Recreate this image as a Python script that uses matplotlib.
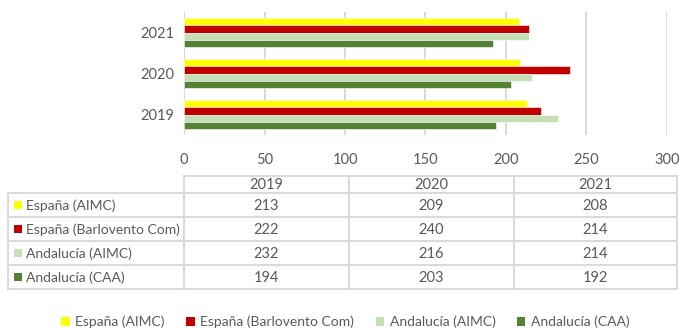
import matplotlib
matplotlib.use("Agg")
import matplotlib.pyplot as plt
from matplotlib.patches import Rectangle
import numpy as np

plt.rcParams['font.family'] = ['Lato', 'DejaVu Sans']

years = ['2019', '2020', '2021']
series_names = ['España (AIMC)', 'España (Barlovento Com)', 'Andalucía (AIMC)', 'Andalucía (CAA)']
espana_aimc = [213, 209, 208]
espana_barlovento = [222, 240, 214]
andalucia_aimc = [232, 216, 214]
andalucia_caa = [194, 203, 192]
colors = ['#FFFF00', '#C00000', '#C5E0B4', '#548235']
xticks = [0, 50, 100, 150, 200, 250, 300]

series = [espana_aimc, espana_barlovento, andalucia_aimc, andalucia_caa]
TXT = '#595959'
GRID = '#D9D9D9'
W, H = 679, 330

fig = plt.figure(figsize=(W/100, H/100), dpi=100)

def fx(px):
    return px / W

def fy(py):
    return 1 - py / H

# chart axes
ax = fig.add_axes([fx(184), fy(135), fx(667) - fx(184), fy(12) - fy(135)])
pos = np.arange(len(years))
h = 0.178
bars = []
for i, (vals, c) in enumerate(zip(series, colors)):
    b = ax.barh(pos + (1.5 - i) * h, vals, height=h, color=c, edgecolor='white',
                linewidth=0.4, zorder=3, label=series_names[i])
    bars.append(b)
ax.set_xlim(0, 300)
ax.set_ylim(-0.5, 2.5)
ax.set_xticks(xticks)
ax.set_xticklabels([str(t) for t in xticks])
ax.set_yticks(pos)
ax.set_yticklabels(years)
ax.tick_params(axis='both', length=0, colors=TXT, labelsize=10.5)
ax.tick_params(axis='x', pad=13)
ax.tick_params(axis='y', pad=7)
ax.grid(axis='x', color=GRID, linewidth=1.4, zorder=0)
for s in ax.spines.values():
    s.set_visible(False)
ax.axvline(0, color=GRID, linewidth=1.4, zorder=1)

# table overlay
tax = fig.add_axes([0, 0, 1, 1])
tax.set_xlim(0, W)
tax.set_ylim(H, 0)
tax.axis('off')
col_x = [8, 184, 348.5, 513.5, 677]
row_y = [176, 193, 217, 241, 265, 289]
lw = 1.4
tax.plot([col_x[1], col_x[-1]], [row_y[0], row_y[0]], color=GRID, lw=lw)
for y in row_y[1:]:
    tax.plot([col_x[0], col_x[-1]], [y, y], color=GRID, lw=lw)
for x in col_x[1:]:
    tax.plot([x, x], [row_y[0], row_y[-1]], color=GRID, lw=lw)
tax.plot([col_x[0], col_x[0]], [row_y[1], row_y[-1]], color=GRID, lw=lw)

for j, yr in enumerate(years):
    cx = (col_x[j + 1] + col_x[j + 2]) / 2
    tax.text(cx, (row_y[0] + row_y[1]) / 2 + 0.5, yr, ha='center', va='center',
             color=TXT, fontsize=10.5)
for i, (name, vals, c) in enumerate(zip(series_names, series, colors)):
    cy = (row_y[i + 1] + row_y[i + 2]) / 2
    tax.add_patch(Rectangle((14, cy - 3.7), 7.5, 7.5, facecolor=c, edgecolor='none'))
    tax.text(26, cy + 0.5, name, ha='left', va='center', color=TXT, fontsize=10)
    for j, v in enumerate(vals):
        cx = (col_x[j + 1] + col_x[j + 2]) / 2
        tax.text(cx, cy + 0.5, str(v), ha='center', va='center', color=TXT, fontsize=10.5)

leg = fig.legend(handles=bars, labels=series_names, loc='center',
                 bbox_to_anchor=(fx(345.5), fy(322)), ncol=4, frameon=False,
                 fontsize=10, handlelength=0.6, handleheight=0.6,
                 handletextpad=0.4, columnspacing=1.55, borderpad=0)
for t in leg.get_texts():
    t.set_color(TXT)
for hdl in leg.legend_handles:
    hdl.set_edgecolor('none')

fig.savefig('out.png', dpi=100)
